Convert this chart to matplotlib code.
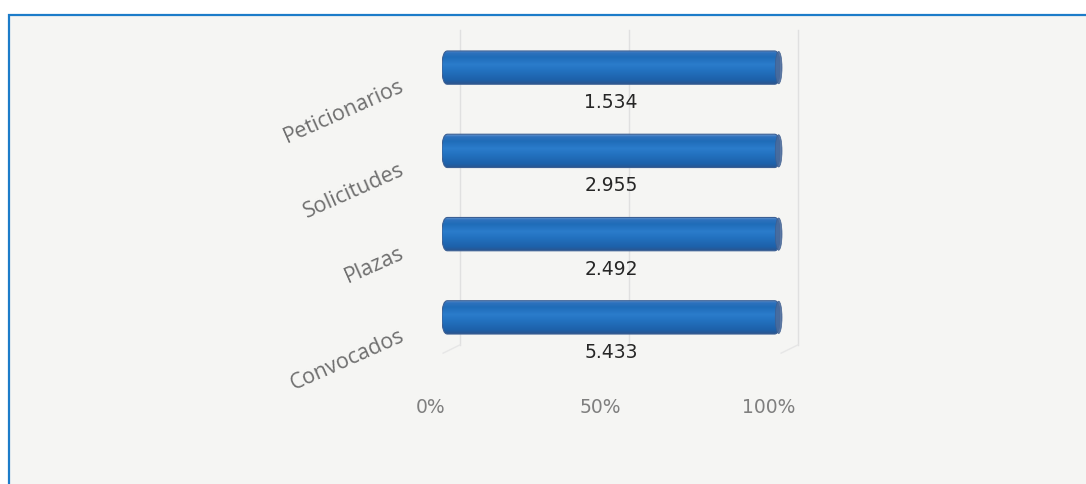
import numpy as np
import matplotlib
matplotlib.use("Agg")
from matplotlib import pyplot as plt
from matplotlib.patches import Rectangle, FancyBboxPatch, Ellipse
from matplotlib.colors import LinearSegmentedColormap
from matplotlib.transforms import ScaledTranslation

categories = ['Convocados', 'Plazas', 'Solicitudes', 'Peticionarios']
values = [5433, 2492, 2955, 1534]
value_labels = ['5.433', '2.492', '2.955', '1.534']
shares = [100, 100, 100, 100]
xticks = [0, 50, 100]
xtick_labels = ['0%', '50%', '100%']

W, H = 1086, 484
fig = plt.figure(figsize=(W / 100, H / 100), dpi=100)
fig.patch.set_facecolor('white')

# panel with blue border (runs off right and bottom edges)
fig.patches.append(Rectangle((9 / W, -0.1), 1.2, 0.1 + (H - 15) / H, transform=fig.transFigure,
                             facecolor='#f5f5f3', edgecolor='#1c7cc9', lw=1.6, zorder=-1))

ax = fig.add_axes([442 / W, (H - 359) / H, 338 / W, 333 / H])
ax.set_facecolor('none')
for s in ax.spines.values():
    s.set_visible(False)

y = np.arange(len(categories))

# back wall gridlines (shifted right for the 3D look)
grid_off = ScaledTranslation(18 / 100, 0, fig.dpi_scale_trans)
for xt in xticks:
    ax.plot([xt, xt], [-0.33, 3.45], color='#e0e0e0', lw=1.0, clip_on=False,
            transform=ax.transData + grid_off, zorder=0.5)
    ax.plot([xt, xt - 5], [-0.33, -0.43], color='#e6e6e6', lw=1.0, clip_on=False,
            transform=ax.transData + grid_off, zorder=0.5)

# cylinder-like bars: gradient clipped to rounded bar shapes
cyl = LinearSegmentedColormap.from_list('cyl', [
    (0.0, '#2b558e'), (0.12, '#1d61aa'), (0.40, '#2372c0'),
    (0.58, '#2b7ccb'), (0.80, '#1f6cb8'), (0.93, '#2f72bd'), (1.0, '#6d9bd0')])
grad = np.linspace(0, 1, 64).reshape(-1, 1)
bars = ax.barh(y, shares, height=0.40, color='none', lw=0)
for rect in bars:
    x0, y0 = rect.get_x(), rect.get_y()
    w, h = rect.get_width(), rect.get_height()
    shape = FancyBboxPatch((x0, y0), w, h, boxstyle='round,pad=0,rounding_size=1.6',
                           mutation_aspect=0.12, facecolor='none', edgecolor='#3a5f94',
                           lw=0.8, zorder=3)
    ax.add_patch(shape)
    im = ax.imshow(grad, cmap=cyl, extent=[x0, x0 + w, y0, y0 + h], origin='lower',
                   aspect='auto', zorder=2, interpolation='bilinear')
    im.set_clip_path(shape)
    # darker end cap
    ax.add_patch(Ellipse((x0 + w - 0.4, y0 + h / 2), 2.0, h * 0.97, facecolor='#4a6b9c',
                         edgecolor='#3d5d8e', lw=0.5, alpha=0.9, zorder=3.5, clip_on=False))

ax.set_xlim(0, 100)
ax.set_ylim(-0.5, 3.5)

for yi, lab in zip(y, value_labels):
    ax.text(50, yi - 0.42, lab, ha='center', va='center', fontsize=13.5,
            color='#262626', family='DejaVu Sans')

ax.set_yticks(y)
ax.set_yticklabels(categories, rotation=24, rotation_mode='anchor', ha='right', va='center',
                   fontsize=15.5, color='#6e6e6e', family='Open Sans')
ax.tick_params(axis='y', length=0, pad=28)
for lbl in ax.get_yticklabels():
    lbl.set_transform(lbl.get_transform() + ScaledTranslation(0, -18 / 100, fig.dpi_scale_trans))

ax.set_xticks(xticks)
ax.set_xticklabels(xtick_labels, fontsize=13.5, color='#7f7f7f', family='DejaVu Sans')
ax.tick_params(axis='x', length=0, pad=28)
for lbl in ax.get_xticklabels():
    lbl.set_transform(lbl.get_transform() + ScaledTranslation(-11 / 100, 0, fig.dpi_scale_trans))

fig.savefig('out.png', dpi=100, facecolor=fig.get_facecolor())
